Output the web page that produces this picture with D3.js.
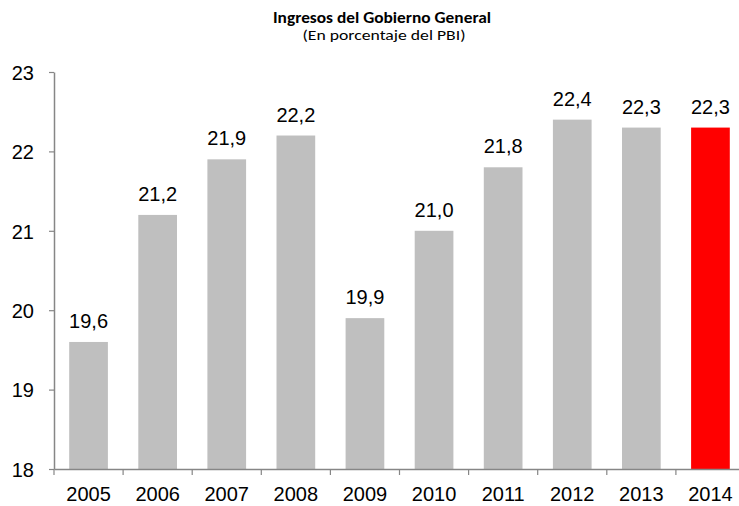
<!DOCTYPE html>
<html>
<head>
<meta charset="utf-8">
<script src="https://cdn.jsdelivr.net/npm/d3@7"></script>
<style>
  html, body { margin: 0; padding: 0; background: #fff; }
  svg { display: block; }
</style>
</head>
<body>
<svg id="chart" width="739" height="506"></svg>
<script>
// Ingresos del Gobierno General, % del PBI
const years = ["2005", "2006", "2007", "2008", "2009", "2010", "2011", "2012", "2013", "2014"];
const ingresos = [19.6, 21.2, 21.9, 22.2, 19.9, 21.0, 21.8, 22.4, 22.3, 22.3];
const yTicks = [18, 19, 20, 21, 22, 23];
const highlightYear = "2014";

const svg = d3.select("#chart");
const plotLeft = 54, plotRight = 745, plotTop = 72, plotBottom = 469;
const numFont = "'Liberation Sans', Arial, sans-serif";
const titleFont = "Carlito, Calibri, Lato, sans-serif";
const axisColor = "#868686";

const x = d3.scaleBand().domain(years).range([plotLeft, plotRight]).paddingInner(0.44).paddingOuter(0.22);
const y = d3.scaleLinear().domain([18, 23]).range([plotBottom, plotTop]);
const fmt = v => d3.format(".1f")(v).replace(".", ",");

// Title
svg.append("text").attr("x", 382).attr("y", 23).attr("text-anchor", "middle")
  .attr("font-family", titleFont).attr("font-size", 15).attr("font-weight", "bold")
  .attr("textLength", 218).attr("lengthAdjust", "spacingAndGlyphs")
  .attr("fill", "#000").text("Ingresos del Gobierno General");
svg.append("text").attr("x", 384).attr("y", 40).attr("text-anchor", "middle")
  .attr("font-family", titleFont).attr("font-size", 15)
  .attr("textLength", 163).attr("lengthAdjust", "spacingAndGlyphs")
  .attr("fill", "#000").text("(En porcentaje del PBI)");

// Bars
svg.append("g").selectAll("rect").data(years).join("rect")
  .attr("x", d => x(d))
  .attr("width", x.bandwidth())
  .attr("y", (d, i) => y(ingresos[i]))
  .attr("height", (d, i) => y(18) - y(ingresos[i]))
  .attr("fill", d => d === highlightYear ? "#FF0000" : "#BFBFBF");

// Value labels
svg.append("g").selectAll("text").data(years).join("text")
  .attr("x", d => x(d) + x.bandwidth() / 2)
  .attr("y", (d, i) => y(ingresos[i]) - 14)
  .attr("text-anchor", "middle")
  .attr("font-family", numFont).attr("font-size", 20).attr("fill", "#000")
  .text((d, i) => fmt(ingresos[i]));

// Y axis
const yAxis = svg.append("g").attr("transform", `translate(${plotLeft},0)`)
  .call(d3.axisLeft(y).tickValues(yTicks).tickSize(5).tickSizeOuter(0).tickPadding(15).tickFormat(d3.format("d")));
yAxis.select(".domain").attr("stroke", axisColor).attr("stroke-width", 1.5);
yAxis.selectAll(".tick line").attr("stroke", axisColor).attr("stroke-width", 1.2);
yAxis.selectAll(".tick text").attr("font-family", numFont).attr("font-size", 20).attr("fill", "#000").attr("dy", "0.36em");

// X axis: labels centered in categories, ticks at category boundaries
const xAxis = svg.append("g").attr("transform", `translate(0,${plotBottom})`)
  .call(d3.axisBottom(x).tickSize(0).tickSizeOuter(0).tickPadding(18));
xAxis.select(".domain").attr("stroke", axisColor).attr("stroke-width", 1.5);
xAxis.selectAll(".tick text").attr("font-family", numFont).attr("font-size", 20).attr("fill", "#000");
const step = x.step();
xAxis.append("g").selectAll("line").data(years).join("line")
  .attr("x1", d => x(d) - x.paddingOuter() * step)
  .attr("x2", d => x(d) - x.paddingOuter() * step)
  .attr("y1", 0).attr("y2", 6)
  .attr("stroke", axisColor).attr("stroke-width", 1.2);
</script>
</body>
</html>
